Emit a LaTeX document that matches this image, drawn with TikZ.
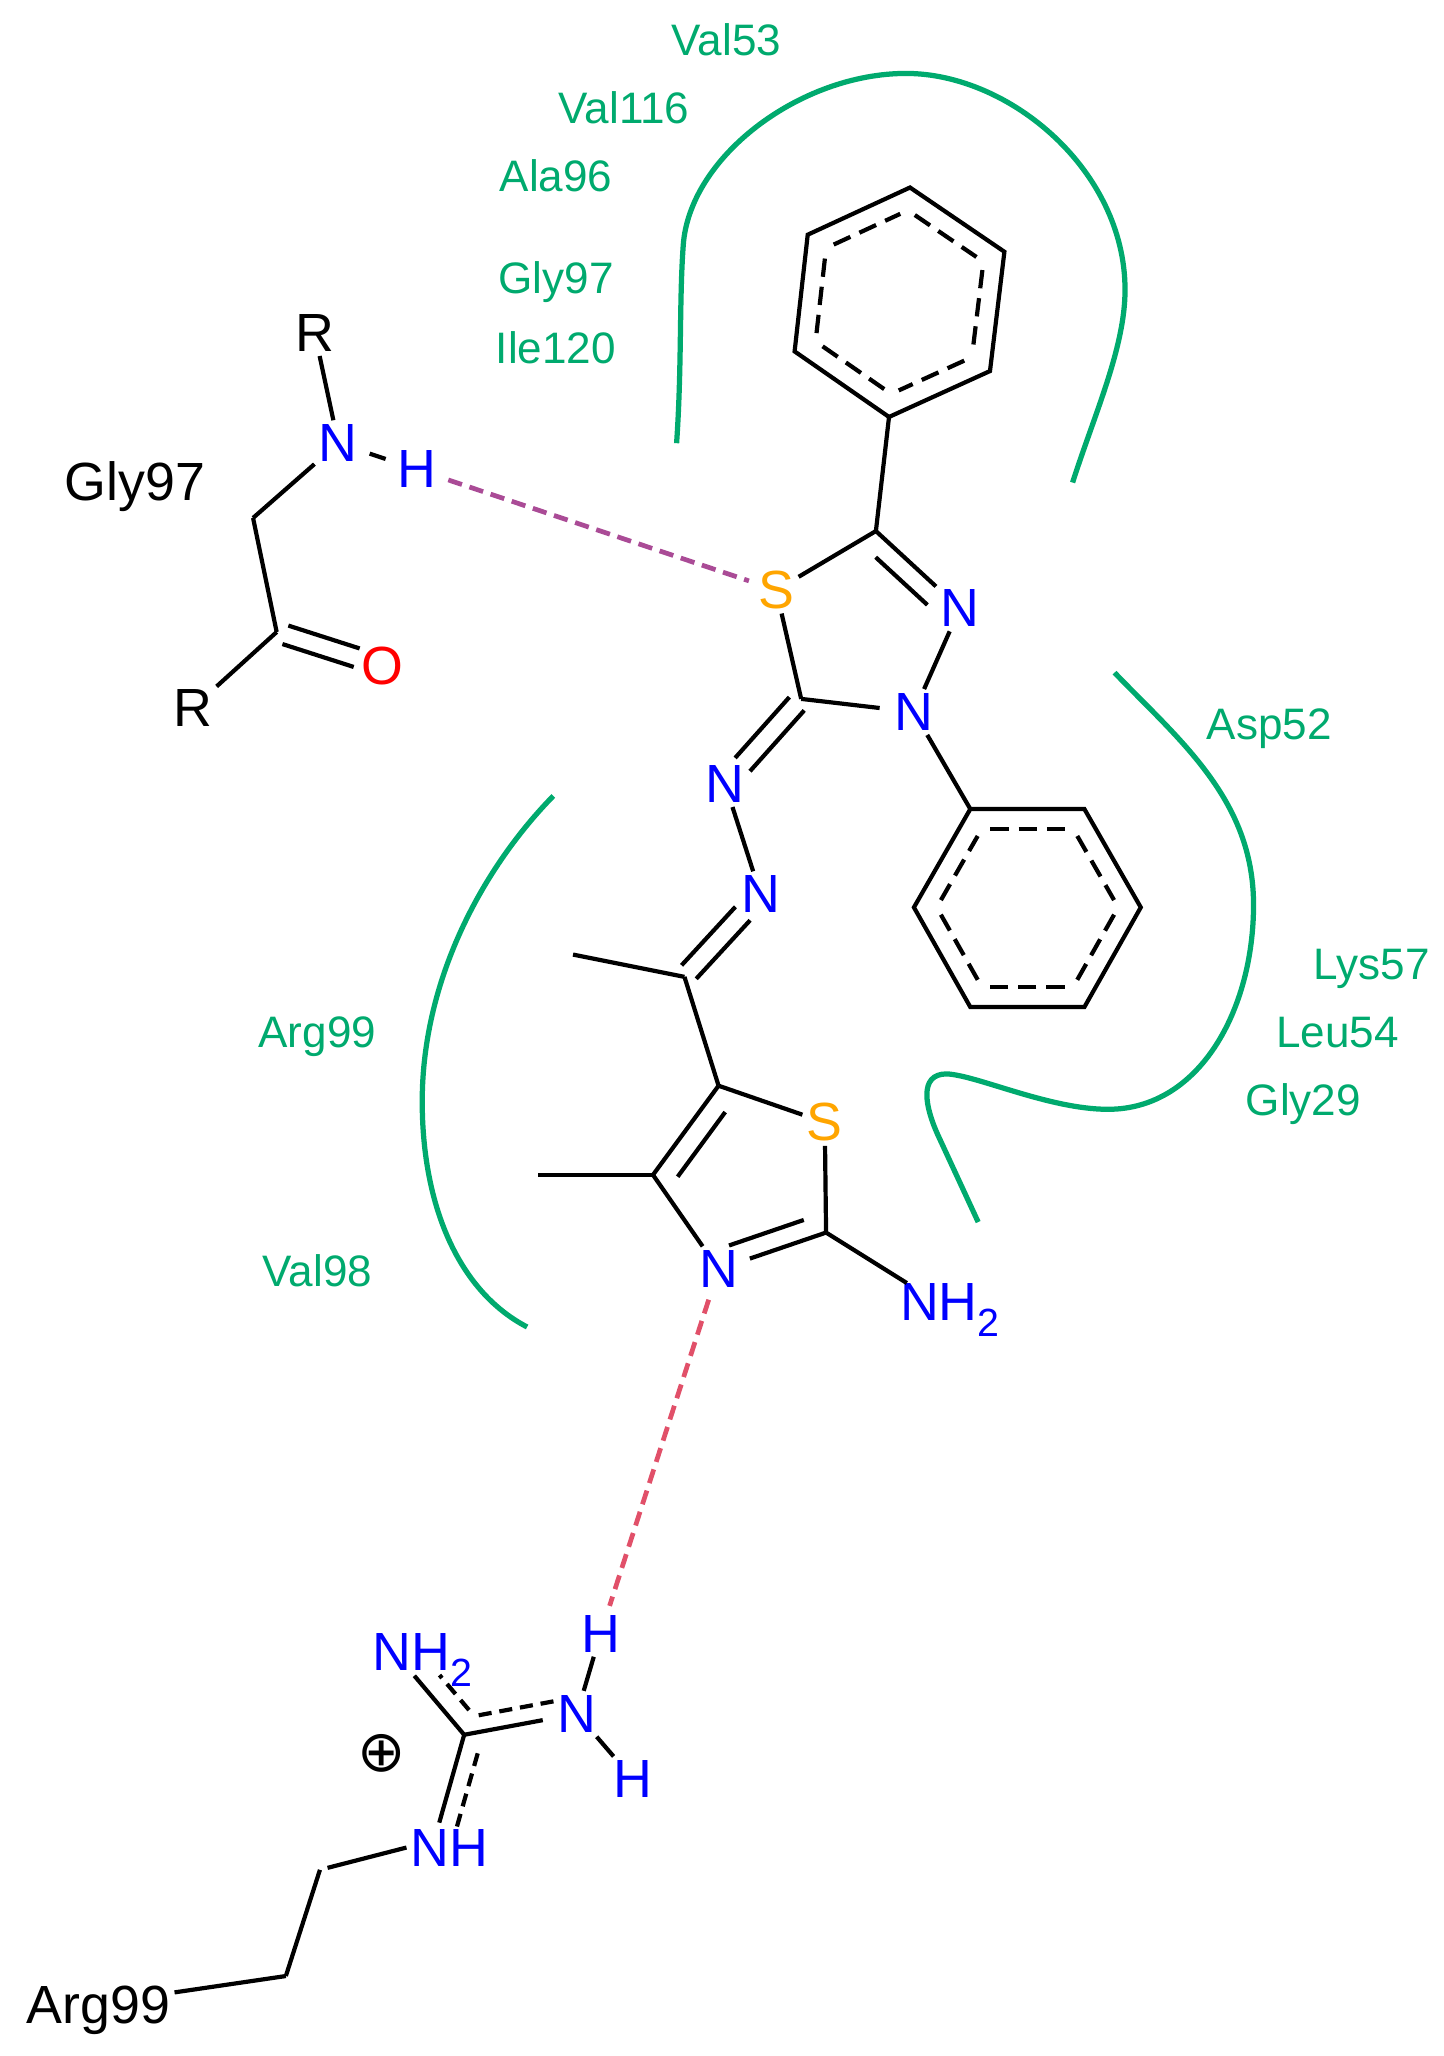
\documentclass[tikz,border=0pt]{standalone}
\usepackage{fontspec}
\setmainfont{Liberation Sans}
\newfontfamily\symbfont{DejaVu Sans}
\usetikzlibrary{calc}
\definecolor{pocket}{RGB}{0,170,110}
\definecolor{hbondS}{RGB}{170,75,150}
\definecolor{hbondN}{RGB}{225,80,105}
\definecolor{sulfur}{RGB}{255,165,0}
\newcommand{\subtwo}{\raisebox{-6pt}{\fontsize{15}{15}\selectfont 2}}
% second line of a double bond: style, from, to, offset
\newcommand{\bondline}[4][bond]{\draw[#1] ($(#2.center)!#4!90:(#3.center)$) -- ($(#3.center)!#4!-90:(#2.center)$);}
% one dashed side inside a ring: centre, from, to
\newcommand{\ringside}[3]{\draw[ringdash] ($(#1)!0.8!(#2)$) -- ($(#1)!0.8!(#3)$);}

\begin{document}
\begin{tikzpicture}[x=0.5pt,y=-0.5pt,
  bond/.style={black, line width=1.6pt},
  dashbond/.style={black, line width=1.6pt, dash pattern=on 5pt off 3pt},
  ringdash/.style={black, line width=1.6pt, dash pattern=on 7pt off 3.8pt, shorten <=3.2pt, shorten >=3.2pt},
  atom/.style={inner sep=1.5pt, font=\fontsize{20.5}{20.5}\selectfont},
  natom/.style={atom, text=blue},
  satom/.style={atom, text=sulfur},
  residue/.style={inner sep=0pt, text height=12pt, text depth=0pt, font=\fontsize{16.8}{16.8}\selectfont, text=pocket},
  pocketline/.style={pocket, line width=2pt}]
\useasboundingbox (0,0) rectangle (1101,1568);

% hydrophobic pockets
\draw [pocketline] (516,338) .. controls (520,280) and (518,230) .. (521,188) .. controls (525,120) and (610,56) .. (691,56) .. controls (770,56) and (858,130) .. (858,221) .. controls (858,265) and (835,315) .. (818,368);
\draw [pocketline] (422,607) .. controls (370,660) and (322,745) .. (322,840) .. controls (322,920) and (350,985) .. (402,1012);
\draw [pocketline] (850,513) .. controls (900,565) and (956,610) .. (956,690) .. controls (956,770) and (915,846) .. (845,846) .. controls (800,846) and (745,820) .. (722,819) .. controls (700,819) and (706,845) .. (715,865) -- (746,932);

\node [residue] (val53) at (554,30) {Val53};
\node [residue] (val116) at (476,82) {Val116};
\node [residue] (ala96) at (424,134) {Ala96};
\node [residue] (gly97g) at (424,212) {Gly97};
\node [residue] (ile120) at (424,265) {Ile120};
\node [residue] (asp52) at (968,552) {Asp52};
\node [residue] (lys57) at (1046,735) {Lys57};
\node [residue] (leu54) at (1020,787) {Leu54};
\node [residue] (gly29) at (994,839) {Gly29};
\node [residue] (arg99g) at (242,787) {Arg99};
\node [residue] (val98) at (242,969) {Val98};

% upper phenyl
\coordinate (a1) at (694,143);
\coordinate (a2) at (766,192);
\coordinate (a3) at (755,283);
\coordinate (a4) at (678,318);
\coordinate (a5) at (606,268);
\coordinate (a6) at (616,179);
\coordinate (actr) at (686,230);
\draw [bond] (a1) -- (a2) -- (a3) -- (a4) -- (a5) -- (a6) -- cycle;
\ringside{actr}{a1}{a2}
\ringside{actr}{a2}{a3}
\ringside{actr}{a3}{a4}
\ringside{actr}{a4}{a5}
\ringside{actr}{a5}{a6}
\ringside{actr}{a6}{a1}

% thiadiazole
\coordinate (c1) at (668,405);
\coordinate (c2) at (611,533);
\node [satom] (s1) at (592,450) {S};
\node [natom] (n1) at (732,464) {N};
\node [natom] (n2) at (697,543) {N};
\draw [bond] (a4) -- (c1);
\draw [bond] (c1) -- (s1);
\draw [bond] (s1) -- (c2);
\draw [bond] (c1) -- (n1);
\bondline[bond, shorten <=6.7pt, shorten >=10pt]{c1}{n1}{-7.4pt}
\draw [bond] (n1) -- (n2);
\draw [bond, shorten >=4pt] (c2) -- (n2);

% lower phenyl
\coordinate (b1) at (740,617);
\coordinate (b2) at (827,617);
\coordinate (b3) at (870,692);
\coordinate (b4) at (827,768);
\coordinate (b5) at (740,768);
\coordinate (b6) at (697,692);
\coordinate (bctr) at (784,692);
\draw [bond] (n2) -- (b1);
\draw [bond] (b1) -- (b2) -- (b3) -- (b4) -- (b5) -- (b6) -- cycle;
\ringside{bctr}{b1}{b2}
\ringside{bctr}{b2}{b3}
\ringside{bctr}{b3}{b4}
\ringside{bctr}{b4}{b5}
\ringside{bctr}{b5}{b6}
\ringside{bctr}{b6}{b1}

% azine
\node [natom] (n3) at (553,598) {N};
\node [natom] (n4) at (580,682) {N};
\coordinate (c3) at (522,745);
\coordinate (c4) at (437,728);
\bondline[bond, shorten <=2.5pt, shorten >=10pt]{c2}{n3}{3.8pt}
\bondline[bond, shorten <=2.5pt, shorten >=10pt]{c2}{n3}{-3.8pt}
\draw [bond] (n3) -- (n4);
\bondline[bond, shorten <=2.5pt, shorten >=10pt]{c3}{n4}{3.8pt}
\bondline[bond, shorten <=2.5pt, shorten >=10pt]{c3}{n4}{-3.8pt}
\draw [bond] (c3) -- (c4);

% thiazole
\coordinate (c5) at (548,828);
\coordinate (c6) at (498,896);
\coordinate (c7) at (410,896);
\coordinate (c8) at (630,940);
\node [satom] (s2) at (629,856) {S};
\node [natom] (n5) at (548,968) {N};
\node [natom, anchor=west, inner sep=0pt] (nh1) at (686,999) {NH\subtwo};
\draw [bond] (c3) -- (c5);
\draw [bond] (c5) -- (s2);
\draw [bond] (s2) -- (c8);
\draw [bond] (c5) -- (c6);
\bondline[bond, shorten <=6.6pt, shorten >=5pt]{c5}{c6}{8pt}
\draw [bond] (c6) -- (c7);
\draw [bond] (c6) -- (n5);
\draw [bond, shorten >=3pt] (c8) -- (n5);
\bondline[bond, shorten <=6.5pt, shorten >=6.7pt]{c8}{n5}{-7.3pt}
\draw [bond] (c8) -- (nh1);

% Gly97 backbone
\node [atom] (r1) at (240,254) {R};
\node [natom] (n6) at (258,338) {N};
\node [natom] (h1) at (318,358) {H};
\coordinate (c9) at (193,395);
\coordinate (c10) at (211,482);
\node [atom] (r2) at (147,540) {R};
\node [atom, text=red] (o1) at (292,508) {O};
\node [atom, text height=15pt, text depth=0pt] (gly97) at (103,367) {Gly97};
\draw [bond] (r1) -- (n6);
\draw [bond, shorten <=3pt, shorten >=3pt] (n6) -- (h1);
\draw [bond] (n6) -- (c9);
\draw [bond] (c9) -- (c10);
\draw [bond] (c10) -- (r2);
\bondline[bond, shorten <=3.5pt, shorten >=10.5pt]{c10}{o1}{3.7pt}
\bondline[bond, shorten <=3.5pt, shorten >=10.5pt]{c10}{o1}{-3.7pt}
\draw [hbondS, line width=1.8pt, dash pattern=on 5.5pt off 3pt, shorten <=3pt, shorten >=2pt] (h1) -- (s1);

% Arg99 side chain
\coordinate (c11) at (354,1323);
\coordinate (c12) at (244,1426);
\coordinate (c13) at (218,1507);
\node [natom, anchor=west, inner sep=0pt] (nh2) at (284,1266) {NH\subtwo};
\coordinate (nh2b) at (316,1278);
\coordinate (nh3b) at (335,1390);
\node [natom] (n7) at (440,1307) {N};
\node [natom] (h2) at (458,1246) {H};
\node [natom] (h3) at (483,1357) {H};
\node [natom] (nh3) at (343,1409) {NH};
\node [atom, font=\symbfont\fontsize{22}{22}\selectfont] (plus) at (291,1337) {⊕};
\node [atom, text height=15pt, text depth=0pt] (arg99) at (75,1528) {Arg99};
\draw [bond] (c11) -- (nh2b);
\draw [bond, shorten >=4pt] (c11) -- (n7);
\draw [bond] (c11) -- (nh3b);
\draw [bond] (n7) -- (h2);
\draw [bond] (n7) -- (h3);
\bondline[dashbond, shorten <=6pt, shorten >=6pt]{c11}{nh2b}{-7.5pt}
\bondline[dashbond, shorten <=6.8pt, shorten >=6pt]{c11}{n7}{6.3pt}
\bondline[dashbond, shorten <=5.4pt, shorten >=0pt]{c11}{nh3b}{6.9pt}
\draw [bond, shorten >=3pt] (nh3.west) -- (c12);
\draw [bond] (c12) -- (c13);
\draw [bond] (c13) -- (arg99);
\draw [hbondN, line width=1.8pt, dash pattern=on 5.5pt off 3pt, shorten <=3pt, shorten >=2pt] (n5) -- (h2);

\end{tikzpicture}
\end{document}
